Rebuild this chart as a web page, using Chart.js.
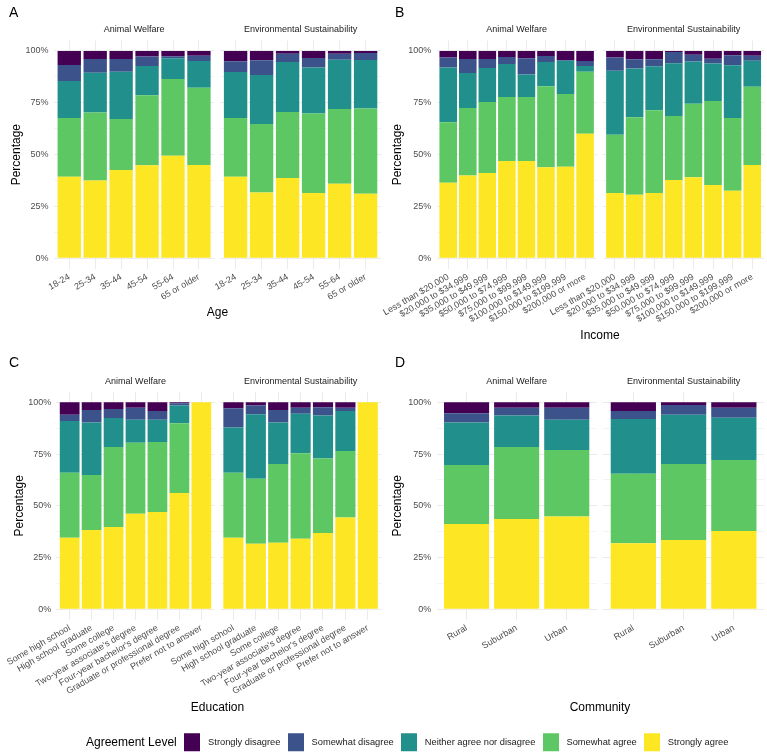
<!DOCTYPE html>
<html><head><meta charset="utf-8">
<script src="https://cdn.jsdelivr.net/npm/chart.js@4"></script>
<style>
body{margin:0;background:#fff;font-family:"Liberation Sans",Arial,sans-serif;}
#wrap{position:relative;width:767px;height:754px;overflow:hidden;background:#fff;}
canvas{position:absolute;left:0;top:0;}
.t{position:absolute;white-space:nowrap;transform:translate(-50%,-50%);color:#000;}
.tag{position:absolute;font-size:14px;color:#000;transform:translate(0,-50%);}
#legend{position:absolute;left:86px;top:742px;transform:translate(0,-50%);display:flex;align-items:center;font-size:9.3px;color:#1a1a1a;white-space:nowrap;}
#legend .ttl{font-size:12px;color:#000;margin-right:7.7px;}
#legend .key{width:16px;height:17.5px;margin-right:7.7px;flex:none;}
#legend .lab{margin-right:7.4px;}
</style></head><body><div id="wrap">
<canvas id="a1" width="767" height="754"></canvas>
<canvas id="a2" width="767" height="754"></canvas>
<canvas id="b1" width="767" height="754"></canvas>
<canvas id="b2" width="767" height="754"></canvas>
<canvas id="c1" width="767" height="754"></canvas>
<canvas id="c2" width="767" height="754"></canvas>
<canvas id="d1" width="767" height="754"></canvas>
<canvas id="d2" width="767" height="754"></canvas>
<div class="tag" style="left:9px;top:12px">A</div>
<div class="tag" style="left:395px;top:12px">B</div>
<div class="tag" style="left:9px;top:362px">C</div>
<div class="tag" style="left:395px;top:362px">D</div>
<div class="t" style="left:217.5px;top:312px;font-size:12px">Age</div>
<div class="t" style="left:600px;top:335px;font-size:12px">Income</div>
<div class="t" style="left:217.5px;top:707px;font-size:12px">Education</div>
<div class="t" style="left:600px;top:707px;font-size:12px">Community</div>
<div id="legend"></div>
</div>
<script>
// ---- data ----
const levels = ["Strongly disagree","Somewhat disagree","Neither agree nor disagree","Somewhat agree","Strongly agree"];
const levelColors = ["#440154","#3B528B","#21908C","#5DC863","#FDE725"];
const facetNames = ["Animal Welfare","Environmental Sustainability"];
const yTickValues = [0,12.5,25,37.5,50,62.5,75,87.5,100];

const ageCats = ["18-24","25-34","35-44","45-54","55-64","65 or older"];
// each row: [Strongly disagree, Somewhat disagree, Neither, Somewhat agree, Strongly agree]
const ageAnimal = [
  [6.8,7.7,17.8,28.3,39.4],[3.9,6.6,19.2,32.8,37.5],[3.9,6.1,22.8,24.6,42.6],
  [2.7,4.5,14.2,33.7,44.9],[2.6,0.9,10.0,37.0,49.5],[2.3,2.5,12.9,37.3,45.0]];
const ageEnv = [
  [5.0,5.1,22.2,28.3,39.4],[4.5,7.1,23.6,33.0,31.8],[1.4,3.9,24.1,31.9,38.7],
  [3.4,4.6,22.2,38.3,31.5],[1.4,2.8,23.8,36.0,36.0],[1.0,3.3,23.4,41.1,31.2]];

const incomeCats = ["Less than $20,000","$20,000 to $34,999","$35,000 to $49,999","$50,000 to $74,999","$75,000 to $99,999","$100,000 to $149,999","$150,000 to $199,999","$200,000 or more"];
const incomeAnimal = [
  [3.1,4.9,26.4,29.1,36.5],[3.9,6.7,16.9,32.6,39.9],[3.9,4.3,16.4,34.2,41.2],[2.9,3.4,15.9,30.9,46.9],
  [3.5,7.9,10.8,30.9,46.9],[2.4,2.9,11.7,39.1,43.9],[4.3,0.4,16.0,35.1,44.2],[4.8,2.4,2.8,29.9,60.1]];
const incomeEnv = [
  [3.2,6.3,30.9,28.1,31.5],[4.0,4.5,23.5,37.3,30.7],[4.0,3.4,21.2,39.9,31.5],[0.5,5.4,25.5,30.8,37.8],
  [1.8,3.3,20.3,35.5,39.1],[3.7,2.4,18.0,40.5,35.4],[2.1,4.8,25.4,35.1,32.6],[2.3,2.4,12.5,37.8,45.0]];

const eduCats = ["Some high school","High school graduate","Some college","Two-year associate's degree","Four-year bachelor's degree","Graduate or professional degree","Prefer not to answer"];
const eduAnimal = [
  [6.0,3.0,25.1,31.3,34.6],[3.7,6.1,25.3,26.6,38.3],[3.2,4.4,14.0,38.6,39.8],[2.6,5.9,11.1,34.2,46.2],
  [4.2,4.3,10.7,33.8,47.0],[0.5,1.1,8.5,33.7,56.2],[0,0,0,0,100]];
const eduEnv = [
  [2.9,9.3,21.9,31.3,34.6],[1.6,4.2,31.1,31.4,31.7],[3.7,6.1,20.0,38.0,32.2],[2.7,2.9,19.0,41.3,34.1],
  [2.4,4.0,20.7,36.0,36.9],[2.7,1.5,19.3,32.2,44.3],[0,0,0,0,100]];

const communityCats = ["Rural","Suburban","Urban"];
const communityAnimal = [[5.3,4.5,20.5,28.5,41.2],[2.7,3.7,15.2,34.8,43.6],[2.6,5.9,14.5,32.2,44.8]];
const communityEnv = [[4.2,3.9,26.4,33.6,31.9],[1.3,4.7,23.8,36.7,33.5],[2.6,4.9,20.4,34.3,37.8]];

// ---- layout ----
const FONT = '"Liberation Sans", Arial, sans-serif';
Chart.defaults.font.family = FONT;
const CW = 767, CH = 754, XH = 100;

function facet(id, cats, rows, strip, x0, x1, y0, y1, yW) {
  const datasets = [4,3,2,1,0].map(k => ({
    label: levels[k],
    data: rows.map((r, i) => ({x: i + 1, y: r[k]})),
    backgroundColor: levelColors[k],
    borderWidth: 0,
    barPercentage: 0.9,
    categoryPercentage: 1.0
  }));
  const titleH = 9 * 1.2 + 5.2;
  const showY = yW > 0;
  new Chart(document.getElementById(id), {
    type: 'bar',
    data: {datasets},
    options: {
      responsive: false, animation: false, events: [],
      layout: {padding: {left: x0 - yW, right: CW - x1, top: y0 - titleH, bottom: CH - y1 - XH}},
      plugins: {
        legend: {display: false}, tooltip: {enabled: false},
        title: {display: true, text: strip, fullSize: false, color: '#1a1a1a',
                font: {size: 9, weight: 'normal'}, padding: {top: 0, bottom: 5.2}}
      },
      scales: {
        x: {
          type: 'linear', stacked: true, offset: false, min: 0.4, max: cats.length + 0.6,
          afterBuildTicks: s => { s.ticks = cats.map((c, i) => ({value: i + 1})); },
          afterFit: s => { s.height = XH; },
          grid: {color: '#ebebeb', drawTicks: false, offset: false},
          border: {display: false},
          ticks: {autoSkip: false, minRotation: 30, maxRotation: 30, padding: 3, color: '#4d4d4d',
                  font: {size: 9}, callback: (v, i) => cats[i]}
        },
        y: {
          stacked: true, min: -5, max: 105,
          afterBuildTicks: s => { s.ticks = yTickValues.map(v => ({value: v})); },
          afterFit: s => { s.width = yW; },
          grid: {drawTicks: false, color: c => (c.tick && c.tick.value % 25 === 0) ? '#ebebeb' : '#f4f4f4'},
          border: {display: false},
          ticks: {display: showY, padding: 5.3, color: '#4d4d4d', font: {size: 9},
                  callback: v => (v % 25 === 0 ? v + '%' : '')},
          title: {display: showY, text: 'Percentage', color: '#000', font: {size: 12}, padding: 0}
        }
      }
    }
  });
}

const L1 = [53.7, 214.5], L2 = [220.0, 381.2], R1 = [436.5, 596.8], R2 = [603.2, 764.0];
const T1 = [40.6, 268.7], T2 = [391.9, 619.7];
facet('a1', ageCats, ageAnimal, facetNames[0], L1[0], L1[1], T1[0], T1[1], 44.4);
facet('a2', ageCats, ageEnv, facetNames[1], L2[0], L2[1], T1[0], T1[1], 0);
facet('b1', incomeCats, incomeAnimal, facetNames[0], R1[0], R1[1], T1[0], T1[1], 45.7);
facet('b2', incomeCats, incomeEnv, facetNames[1], R2[0], R2[1], T1[0], T1[1], 0);
facet('c1', eduCats, eduAnimal, facetNames[0], L1[0], L1[1], T2[0], T2[1], 44.4);
facet('c2', eduCats, eduEnv, facetNames[1], L2[0], L2[1], T2[0], T2[1], 0);
facet('d1', communityCats, communityAnimal, facetNames[0], R1[0], R1[1], T2[0], T2[1], 45.7);
facet('d2', communityCats, communityEnv, facetNames[1], R2[0], R2[1], T2[0], T2[1], 0);

// legend
const lg = document.getElementById('legend');
lg.innerHTML = '<span class="ttl">Agreement Level</span>' +
  levels.map((l, k) => '<span class="key" style="background:' + levelColors[k] + '"></span><span class="lab">' + l + '</span>').join('');
</script>
</body></html>
